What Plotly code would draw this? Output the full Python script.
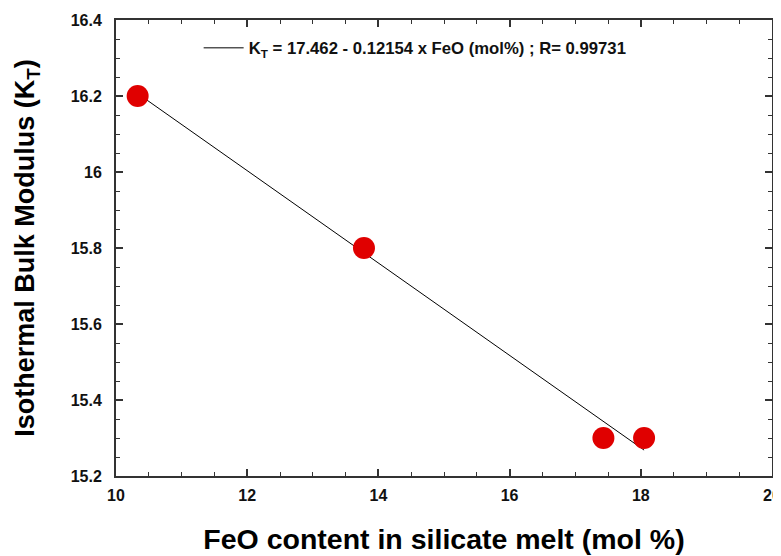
import plotly.graph_objects as go

feo = [10.33, 13.78, 17.43, 18.05]
kt = [16.20, 15.80, 15.30, 15.30]
intercept = 17.462
slope = -0.12154
fit_x = [feo[0], feo[-1]]
fit_y = [intercept + slope * v for v in fit_x]

font = "Arial, Liberation Sans, sans-serif"
fig = go.Figure()
fig.add_trace(go.Scatter(
    x=fit_x, y=fit_y, mode="lines",
    line=dict(color="black", width=1),
    name="<b>K<sub>T</sub> = 17.462 - 0.12154 x FeO (mol%) ; R= 0.99731</b>",
    showlegend=True,
))
fig.add_trace(go.Scatter(
    x=feo, y=kt, mode="markers",
    marker=dict(color="#e00000", size=22),
    showlegend=False,
))

axis_common = dict(
    showgrid=False, zeroline=False, showline=True, linecolor="#333333", linewidth=2,
    mirror="ticks", ticks="inside", ticklen=7, tickwidth=1.5, tickcolor="#333333",
    tickfont=dict(family=font, size=16, color="#111111", weight="bold"),
    automargin=False,
)
fig.update_xaxes(
    range=[10, 20], dtick=2, tick0=10,
    minor=dict(dtick=0.5, ticks="inside", ticklen=4, tickwidth=1, tickcolor="#333333"),
    title=dict(text="<b>FeO content in silicate melt (mol %)</b>",
               font=dict(family=font, size=28.5, color="black"), standoff=26),
    ticklabelstandoff=4,
    **axis_common,
)
fig.update_yaxes(
    range=[15.2, 16.4], dtick=0.2, tick0=15.2,
    minor=dict(dtick=0.05, ticks="inside", ticklen=4, tickwidth=1, tickcolor="#333333"),
    title=dict(text="<b>Isothermal Bulk Modulus (K<sub>T</sub>)</b>",
               font=dict(family=font, size=27, color="black"), standoff=28),
    ticklabelstandoff=9,
    **axis_common,
)
fig.update_layout(
    width=773, height=548,
    margin=dict(l=108, r=9, t=12, b=80),
    paper_bgcolor="white", plot_bgcolor="white",
    font=dict(family=font),
    legend=dict(x=0.126, y=0.977, xanchor="left", yanchor="top",
                bgcolor="rgba(0,0,0,0)", font=dict(family=font, size=16.7, color="#111111"),
                itemwidth=40),
)
fig.write_html("out.html")
